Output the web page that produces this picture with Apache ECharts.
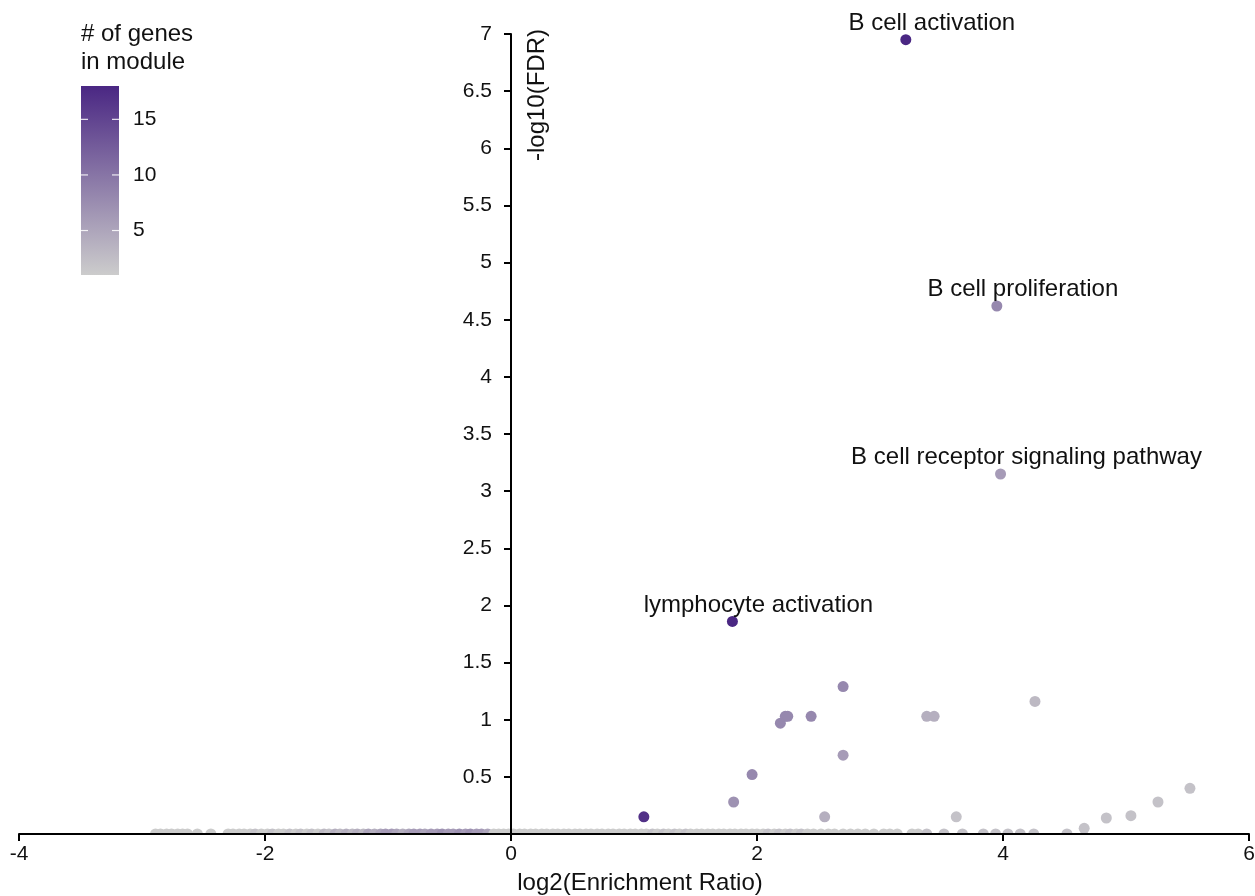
<!DOCTYPE html>
<html lang="en">
<head>
<meta charset="UTF-8">
<title>Enrichment volcano</title>
<script src="https://cdn.jsdelivr.net/npm/echarts@6/dist/echarts.min.js"></script>
<style>
    html, body { margin: 0; padding: 0; background: #fff; }
    #box { width: 1255px; height: 896px; }
</style>
</head>
<body>
<div id="box"></div>
<script>
    // terms that sit on FDR = 1 (y = 0), read left to right along the x axis
    var baseX = [-2.89, -2.85, -2.80, -2.76, -2.71, -2.67, -2.63, -2.55, -2.44,
        -2.30, -2.26, -2.21, -2.17, -2.12, -2.08, -2.03, -1.98, -1.94, -1.89, -1.85, -1.80,
        -1.75, -1.71, -1.66, -1.62, -1.57, -1.52, -1.48, -1.43, -1.39, -1.34, -1.29, -1.25,
        -1.20, -1.16, -1.11, -1.06, -1.02, -0.97, -0.93, -0.88, -0.83, -0.79, -0.74, -0.70,
        -0.65, -0.60, -0.56, -0.51, -0.47, -0.42, -0.37, -0.33, -0.28, -0.24, -0.19, -0.14,
        -0.10, -0.06, -0.02,
        0.02, 0.07, 0.11, 0.16, 0.20, 0.25, 0.29, 0.34, 0.38, 0.43, 0.47, 0.52, 0.56, 0.61,
        0.65, 0.70, 0.74, 0.79, 0.83, 0.88, 0.92, 0.97, 1.01, 1.06, 1.10, 1.15, 1.19, 1.24,
        1.28, 1.33, 1.37, 1.42, 1.46, 1.51, 1.55, 1.60, 1.64, 1.69, 1.73, 1.78, 1.82, 1.87,
        1.91, 1.96, 2.00, 2.05, 2.09, 2.14, 2.18, 2.23, 2.27, 2.32, 2.36, 2.41, 2.46, 2.52,
        2.58, 2.63, 2.70, 2.76, 2.82, 2.88, 2.95, 3.03, 3.08, 3.14, 3.26, 3.31, 3.38, 3.52,
        3.67, 3.84, 3.94, 4.04, 4.14, 4.25, 4.52];
    var baseGenes = [1, 1, 1, 1, 1, 1, 1, 1, 1,
        1, 1, 1, 1, 1, 2, 1, 1, 2, 1, 1, 2,
        1, 2, 1, 2, 1, 3, 2, 4, 3, 4, 3, 4,
        3, 5, 4, 5, 6, 6, 5, 4, 5, 6, 6, 5,
        6, 6, 7, 6, 6, 7, 6, 7, 6, 6, 5, 1,
        1, 1, 1,
        1, 1, 1, 1, 1, 1, 1, 1, 1, 1, 1, 1, 1, 1,
        1, 1, 1, 1, 1, 1, 1, 1, 1, 1, 1, 2, 1, 2,
        1, 2, 1, 2, 1, 1, 1, 1, 1, 1, 1, 1, 1, 1,
        1, 1, 1, 1, 2, 1, 2, 1, 2, 1, 2, 1, 1, 1,
        1, 1, 1, 1, 1, 1, 1, 1, 1, 1, 1, 1, 2, 2,
        2, 2, 2, 2, 2, 2, 2];

    // terms above the baseline
    var termX = [1.08, 1.81, 1.96, 2.55, 3.62, 4.66, 4.84, 5.04, 5.26, 5.52, 2.70, 2.19,
        2.23, 2.25, 2.44, 3.38, 3.44, 4.26, 2.70, 1.80, 3.98, 3.95, 3.21];
    var termY = [0.15, 0.28, 0.52, 0.15, 0.15, 0.05, 0.14, 0.16, 0.28, 0.40, 0.69, 0.97,
        1.03, 1.03, 1.03, 1.03, 1.03, 1.16, 1.29, 1.86, 3.15, 4.62, 6.95];
    var termGenes = [17, 7, 8, 4, 2, 2, 2, 2, 2, 2, 6, 8,
        8, 8, 8, 4, 4, 3, 8, 18, 6, 8, 18];
    var termName = ['', '', '', '', '', '', '', '', '', '', '', '',
        '', '', '', '', '', '', '', 'lymphocyte activation', 'B cell receptor signaling pathway',
        'B cell proliferation', 'B cell activation'];

    var xTicks = [-4, -2, 0, 2, 4, 6];
    var genesMin = 1, genesMax = 18;
    var legendTicks = [5, 10, 15];
    var lowColor = '#cccccc', highColor = '#4a2783';

    var font = "'Liberation Sans', Arial, sans-serif";
    var ink = '#111';

    var baseData = [];
    for (var i = 0; i < baseX.length; i++) {
        baseData.push([baseX[i], 0, baseGenes[i]]);
    }
    var termData = [];
    for (var j = 0; j < termX.length; j++) {
        var item = { value: [termX[j], termY[j], termGenes[j]] };
        if (termName[j]) {
            item.label = { show: true, formatter: termName[j] };
        }
        termData.push(item);
    }

    var gridLeft = 19, gridRight = 6, W = 1255;
    var xMin = xTicks[0], xMax = xTicks[xTicks.length - 1];
    // y axis drawn where x = 0
    var yAxisShift = (0 - xMin) / (xMax - xMin) * (W - gridLeft - gridRight);

    // colour bar legend
    var barX = 81, barY = 86, barW = 38, barH = 189;
    var graphics = [
        { type: 'rect', z: 3, silent: true, shape: { x: 0, y: 835, width: 1255, height: 61 }, style: { fill: '#fff' } },
        { type: 'text', z: 10, x: 81, y: 20, style: { text: '# of genes\nin module', fontFamily: font, fontSize: 24, lineHeight: 28, fill: ink } },
        { type: 'rect', z: 10, shape: { x: barX, y: barY, width: barW, height: barH },
          style: { fill: new echarts.graphic.LinearGradient(0, 0, 0, 1, [{ offset: 0, color: highColor }, { offset: 1, color: lowColor }]) } },
        { type: 'text', z: 10, x: 537, y: 161, rotation: Math.PI / 2,
          style: { text: '-log10(FDR)', fontFamily: font, fontSize: 24, fill: ink, align: 'left', verticalAlign: 'middle' } }
    ];
    legendTicks.forEach(function (v) {
        var ty = barY + barH * (genesMax - v) / (genesMax - genesMin);
        graphics.push({ type: 'line', z: 11, shape: { x1: barX, y1: ty, x2: barX + 7, y2: ty }, style: { stroke: 'rgba(255,255,255,0.85)', lineWidth: 1.2 } });
        graphics.push({ type: 'line', z: 11, shape: { x1: barX + barW - 7, y1: ty, x2: barX + barW, y2: ty }, style: { stroke: 'rgba(255,255,255,0.85)', lineWidth: 1.2 } });
        graphics.push({ type: 'text', z: 11, x: 133, y: ty, style: { text: String(v), fontFamily: font, fontSize: 21, fill: ink, align: 'left', verticalAlign: 'middle' } });
    });

    var mychart = echarts.init(document.getElementById('box'));
    var option = {
        animation: false,
        backgroundColor: '#fff',
        grid: { left: gridLeft, right: gridRight, top: 34, bottom: 62, containLabel: false, outerBoundsMode: 'none' },
        xAxis: {
            type: 'value', min: xMin, max: xMax, interval: 2, z: 5,
            name: 'log2(Enrichment Ratio)', nameLocation: 'middle', nameGap: 37,
            nameTextStyle: { fontFamily: font, fontSize: 24, color: ink, padding: [0, 0, 0, 12] },
            axisLine: { show: true, lineStyle: { color: '#000', width: 2 } },
            axisTick: { show: true, length: 7, lineStyle: { color: '#000', width: 2 } },
            axisLabel: { fontFamily: font, fontSize: 21, color: ink, margin: 10 },
            splitLine: { show: false }
        },
        yAxis: {
            type: 'value', min: 0, max: 7, interval: 0.5, z: 5,
            position: 'left', offset: -yAxisShift,
            axisLine: { show: true, onZero: false, lineStyle: { color: '#000', width: 2 } },
            axisTick: { show: true, length: 7, lineStyle: { color: '#000', width: 2 } },
            axisLabel: {
                fontFamily: font, fontSize: 21, color: ink, margin: 19,
                formatter: function (v) { return v === 0 ? '' : String(v); }
            },
            splitLine: { show: false }
        },
        visualMap: {
            show: false, type: 'continuous', min: genesMin, max: genesMax, dimension: 2,
            seriesIndex: [0, 1], inRange: { color: [lowColor, highColor] }
        },
        graphic: graphics,
        series: [
            { type: 'scatter', symbolSize: 11, data: baseData, itemStyle: { opacity: 1 } },
            {
                type: 'scatter', symbolSize: 11, data: termData, itemStyle: { opacity: 1 },
                label: {
                    show: false, position: 'top', distance: 3, offset: [26, 4],
                    fontFamily: font, fontSize: 24, color: ink
                }
            }
        ]
    };
    mychart.setOption(option);
</script>
</body>
</html>
